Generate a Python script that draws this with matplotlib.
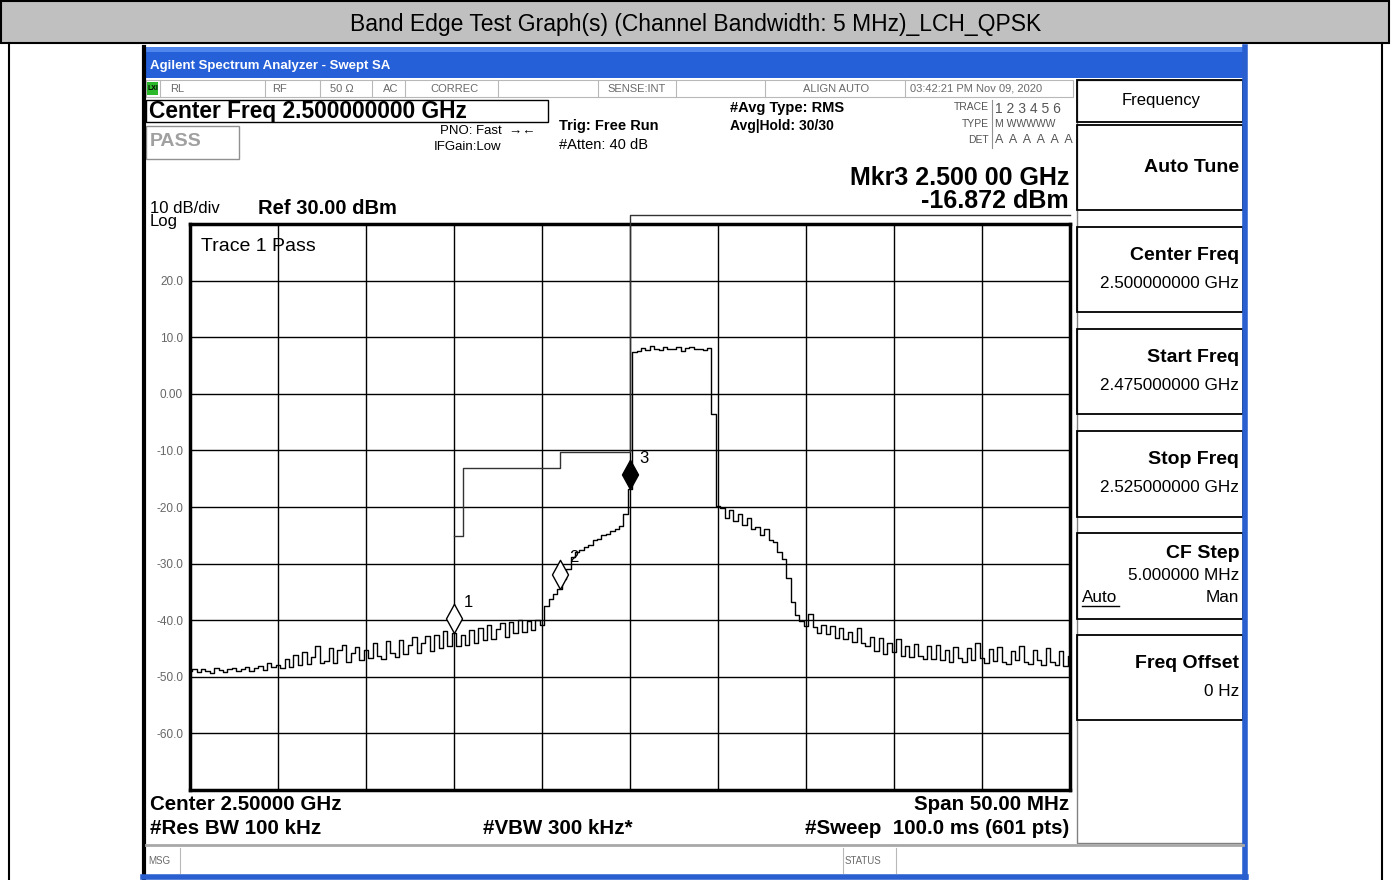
"""
Band edge plot, redrawn from a spectrum-analyser screenshot (LCH, QPSK, 5 MHz BW).
Chrome is placed in pixel coordinates on a full-figure axes; the trace lives
in its own axes with real frequency / dBm scales.
"""
import matplotlib
matplotlib.use("Agg")
import matplotlib.pyplot as plt
import numpy as np
from matplotlib.patches import Rectangle
from matplotlib.path import Path

plt.rcParams["font.family"] = ["Liberation Sans", "DejaVu Sans"]

W, H = 1391, 880

# ---- data -------------------------------------------------------------------
start_ghz, stop_ghz = 2.475, 2.525
y_ticks = [20, 10, 0, -10, -20, -30, -40, -50, -60]
y_tick_labels = ["20.0", "10.0", "0.00", "-10.0", "-20.0", "-30.0", "-40.0", "-50.0", "-60.0"]

# trace 1, one value every 0.25 MHz from 2.475 to 2.525 GHz (dBm)
trace_dbm = [
    -49.0, -48.6, -49.2, -48.7, -48.9, -49.3, -48.5, -48.8, -49.1, -48.6,
    -48.4, -49.0, -48.7, -48.2, -48.9, -48.5, -48.1, -48.8, -47.6, -48.3,
    -47.9,
    -48.5, -46.9, -48.3, -46.2, -48.0, -45.6, -47.8, -46.5, -44.6, -47.6,
    -47.2, -44.9, -47.5, -45.3, -44.4, -47.3, -45.8, -44.8, -47.0, -45.2,
    -46.6, -44.0, -46.3, -46.9, -43.7, -45.8, -46.5, -43.5, -46.0, -44.3,
    -43.0, -45.8, -44.0, -42.8, -45.5, -42.7, -44.9, -41.9, -44.5, -42.3,
    -44.6, -42.6, -44.3, -41.8, -44.0, -41.3, -43.5, -40.9, -43.3, -41.5,
    -40.5, -42.9, -40.3, -42.3, -40.0, -42.0, -40.2, -41.8, -39.9, -40.8,
    -37.5, -36.3, -35.4, -34.4, -32.8, -31.0, -28.9, -28.0, -27.6, -27.0,
    -26.7, -25.9, -25.6, -25.0, -24.8, -24.2, -23.9, -23.3, -21.2, -16.87,
    7.3, 7.6, 8.1, 7.8, 8.4, 8.0, 7.7, 8.3, 8.0, 7.9,
    8.2, 7.6, 8.1, 8.3, 7.9, 8.0, 7.8, 8.1, -3.5, -19.8,
    -20.2, -21.9, -20.5, -22.4, -21.2, -23.1, -22.0, -23.9, -23.5, -24.9,
    -23.9, -25.9, -26.2, -28.0, -29.2, -32.5, -36.8, -39.0, -40.2, -41.0,
    -38.9, -41.2, -42.3, -40.8, -42.5, -41.0, -43.1, -41.3, -43.4, -42.0,
    -43.8, -41.4, -44.1, -44.6, -42.9, -45.5, -43.2, -45.9, -44.0, -45.7,
    -43.4, -46.3, -44.6, -46.5, -44.2, -46.4, -46.8, -44.5, -46.9, -44.3,
    -47.0, -45.2, -47.3, -44.7, -46.6, -47.4, -45.0, -47.1, -44.1, -46.7,
    -47.5, -45.1, -47.2, -44.8, -47.3, -47.7, -45.4, -47.0, -44.6, -47.4,
    -47.8, -45.3, -47.1, -47.9, -45.0, -47.3, -48.0, -45.5, -48.1, -46.3,
]
assert len(trace_dbm) == 201

# band-edge limit line (steps-post)
limit_ghz = [2.4900, 2.4905, 2.4960, 2.5000, 2.5250]
limit_dbm = [-25.1, -13.1, -10.3, 31.6, 31.6]

marker_ids = ["1", "2", "3"]
marker_ghz = [2.4900, 2.4960, 2.5000]
marker_dbm = [-42.3, -34.4, -16.87]
marker_filled = [False, False, True]

softkeys = [
    # (top, bottom, label, value)
    (125, 210, "Auto Tune", None),
    (227, 312, "Center Freq", "2.500000000 GHz"),
    (329, 414, "Start Freq", "2.475000000 GHz"),
    (431, 517, "Stop Freq", "2.525000000 GHz"),
    (533, 619, "CF Step", "5.000000 MHz"),
    (635, 720, "Freq Offset", "0 Hz"),
]

# ---- figure + pixel overlay ---------------------------------------------------
fig = plt.figure(figsize=(W / 100, H / 100), dpi=100)
bg = fig.add_axes([0, 0, 1, 1], zorder=0)
bg.set_xlim(0, W)
bg.set_ylim(H, 0)
bg.axis("off")


def txt(x, y, s, size=10, ha="left", weight="normal", color="black", **kw):
    bg.text(x, y, s, fontsize=size, ha=ha, va="center", weight=weight,
            color=color, **kw)


def box(x0, y0, x1, y1, fc="none", ec="black", lw=1.0, z=1):
    bg.add_patch(Rectangle((x0, y0), x1 - x0, y1 - y0, fc=fc, ec=ec, lw=lw, zorder=z))


def vline(x, y0, y1, color="black", lw=1.0):
    bg.plot([x, x], [y0, y1], color=color, lw=lw)


def hline(y, x0, x1, color="black", lw=1.0):
    bg.plot([x0, x1], [y, y], color=color, lw=lw)


# report table around the screenshot
box(1, 1, W - 2, 43, fc="#c0c0c0", ec="black", lw=1.5)
txt(W / 2, 25, "Band Edge Test Graph(s) (Channel Bandwidth: 5 MHz)_LCH_QPSK", size=16.5, ha="center")
vline(9, 43, H, lw=1.5)
vline(1382, 43, H, lw=1.5)

# analyser window
box(143, 47, 1246, H + 2, fc="white", ec="none")
box(143, 47, 1246, 78, fc="#2660d8", ec="none")
box(143, 47, 1246, 52, fc="#4f86ee", ec="none")
vline(144, 47, H, lw=3)
vline(1245, 47, H, color="#2a5fd0", lw=4)
hline(877, 143, 1246, color="#2a5fd0", lw=4)
txt(150, 66, "Agilent Spectrum Analyzer - Swept SA", size=9.5, weight="bold", color="white")

# status row
box(146, 80, 1073, 97, fc="white", ec="#b8b8b8", lw=0.8)
for x in [160, 265, 320, 372, 405, 498, 598, 676, 765, 905]:
    vline(x, 80, 97, color="#b8b8b8", lw=0.8)
box(147, 82, 158, 95, fc="#2bb82b", ec="none", z=2)
txt(148, 88, "LXI", size=5, weight="bold", color="black", zorder=3)
for x, s in [(170, "RL"), (272, "RF"), (330, "50 Ω"), (383, "AC"), (430, "CORREC"),
             (607, "SENSE:INT"), (803, "ALIGN AUTO"), (910, "03:42:21 PM Nov 09, 2020")]:
    txt(x, 88.5, s, size=8, color="#6a6a6a")

# settings block
box(146, 100, 548, 122, lw=1.0)
txt(149, 111.5, "Center Freq 2.500000000 GHz", size=16.4, weight="bold")
box(146, 126, 239, 159, ec="#909090", lw=1.0)
txt(150, 142, "PASS", size=14, weight="bold", color="#a0a0a0")
txt(440, 131, "PNO: Fast  \u2192\u2190", size=9.5)
txt(434, 147, "IFGain:Low", size=9.5)
txt(559, 126, "Trig: Free Run", size=10.5, weight="bold")
txt(559, 145, "#Atten: 40 dB", size=10.5)
txt(730, 108, "#Avg Type: RMS", size=10.5, weight="bold")
txt(730, 126, "Avg|Hold: 30/30", size=10, weight="bold")
txt(989, 107, "TRACE", size=7.5, ha="right", color="#555555")
txt(989, 124, "TYPE", size=7.5, ha="right", color="#555555")
txt(989, 140, "DET", size=7.5, ha="right", color="#555555")
vline(992, 100, 148, color="#909090", lw=0.8)
txt(995, 109, "1 2 3 4 5 6", size=10, color="#555555")
txt(995, 124, "M WWWWW", size=7.5, color="#555555")
txt(995, 140, "A  A  A  A  A  A", size=9, color="#555555")
txt(1069, 178, "Mkr3 2.500 00 GHz", size=18, ha="right", weight="bold")
txt(1069, 201, "-16.872 dBm", size=18, ha="right", weight="bold")
txt(150, 215, "10 dB/div\nLog", size=12, linespacing=0.85)
txt(258, 208, "Ref 30.00 dBm", size=14.5, weight="bold")

# footer
txt(150, 804, "Center 2.50000 GHz", size=14.8, weight="bold")
txt(1069, 804, "Span 50.00 MHz", size=14.8, weight="bold", ha="right")
txt(150, 828, "#Res BW 100 kHz", size=14.8, weight="bold")
txt(483, 828, "#VBW 300 kHz*", size=14.8, weight="bold")
txt(1069, 828, "#Sweep  100.0 ms (601 pts)", size=14.8, weight="bold", ha="right")
hline(845, 146, 1243, color="#a8a8a8", lw=2)
vline(180, 848, 873, color="#b8b8b8", lw=0.8)
vline(843, 848, 873, color="#b8b8b8", lw=0.8)
vline(896, 848, 873, color="#b8b8b8", lw=0.8)
txt(148, 861, "MSG", size=7, color="#6a6a6a")
txt(845, 861, "STATUS", size=7, color="#6a6a6a")

# softkey panel
box(1077, 80, 1243, 843, ec="#808080", lw=1.0)
box(1077, 80, 1243, 122, lw=1.3)
txt(1161, 101, "Frequency", size=12, ha="center")
for top, bot, label, value in softkeys:
    box(1077, top, 1243, bot, lw=1.3)
    if value is None:
        txt(1239, (top + bot) / 2, label, size=14, weight="bold", ha="right")
    elif label == "CF Step":
        txt(1239, top + 21, label, size=14, weight="bold", ha="right")
        txt(1239, top + 43, value, size=12.3, ha="right")
        txt(1239, top + 65, "Man", size=12.3, ha="right")
        txt(1082, top + 65, "Auto", size=12.3)
        hline(top + 73, 1082, 1119, lw=1.0)
    else:
        txt(1239, top + 29, label, size=14, weight="bold", ha="right")
        txt(1239, top + 57, value, size=12.3, ha="right")

# ---- the spectrum itself -----------------------------------------------------
L, R, T, B = 190, 1070, 224, 790
ax = fig.add_axes([L / W, 1 - B / H, (R - L) / W, (B - T) / H], zorder=2)
ax.set_facecolor("white")
ax.set_xlim(start_ghz, stop_ghz)
ax.set_ylim(-70, 30)

ax.set_xticks(np.linspace(start_ghz, stop_ghz, 11))
ax.set_xticklabels([])
ax.set_yticks(y_ticks)
ax.set_yticklabels(y_tick_labels, fontsize=8.5, color="#666666")
ax.tick_params(length=0, pad=5)
ax.grid(True, color="black", lw=1.0)
for sp in ax.spines.values():
    sp.set_linewidth(2.5)

freq = np.linspace(start_ghz, stop_ghz, len(trace_dbm))
ax.plot(freq, trace_dbm, color="black", lw=1.0, drawstyle="steps-mid", zorder=4)
ax.plot(limit_ghz, limit_dbm, color="#333333", lw=1.0, drawstyle="steps-post",
        clip_on=False, zorder=3)

# diamond sitting on the trace point (tip at the value)
diamond = Path([(0, 0), (0.55, 1), (0, 2), (-0.55, 1), (0, 0)],
               [Path.MOVETO, Path.LINETO, Path.LINETO, Path.LINETO, Path.CLOSEPOLY])
for mid, f, v, filled in zip(marker_ids, marker_ghz, marker_dbm, marker_filled):
    ax.plot([f], [v], marker=diamond, markersize=42, mec="black", mew=1.0,
            mfc="black" if filled else "white", zorder=5)
    ax.annotate(mid, (f, v), xytext=(7, 22), textcoords="offset points",
                fontsize=12, ha="left", va="center", zorder=6)

ax.text(0.012, 0.975, "Trace 1 Pass", transform=ax.transAxes, fontsize=14,
        ha="left", va="top", zorder=6)

fig.savefig("out.png", dpi=100)
